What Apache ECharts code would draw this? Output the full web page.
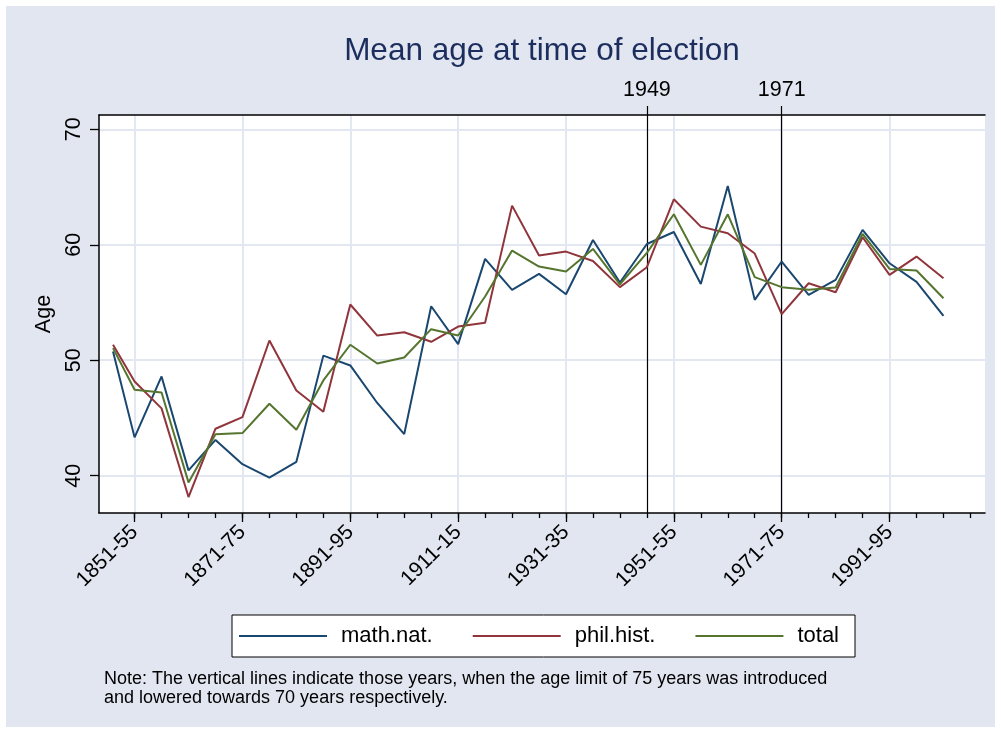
<!DOCTYPE html>
<html>
<head>
<meta charset="utf-8">
<script src="https://cdn.jsdelivr.net/npm/echarts@6/dist/echarts.min.js"></script>
<style>
html,body{margin:0;padding:0;background:#ffffff;}
#chart{width:1001px;height:733px;}
</style>
</head>
<body>
<div id="chart"></div>
<script>
// ---- data ----
const periodStart = [1847,1851,1856,1861,1866,1871,1876,1881,1886,1891,1896,1901,1906,1911,1916,1921,1926,1931,1936,1941,1946,1951,1956,1961,1966,1971,1976,1981,1986,1991,1996,2001];
const mathNat  = [50.76,43.32,48.6,40.46,43.1,41.0,39.83,41.2,50.4,49.55,46.3,43.6,54.68,51.4,58.78,56.1,57.48,55.72,60.42,56.73,60.07,61.11,56.61,65.09,55.23,58.55,55.66,56.96,61.29,58.4,56.79,53.84];
const philHist = [51.34,48.16,45.83,38.15,44.07,45.08,51.71,47.38,45.54,54.83,52.14,52.43,51.6,52.92,53.24,63.39,59.07,59.41,58.6,56.33,58.06,63.94,61.57,61.0,59.24,53.99,56.67,55.89,60.65,57.39,58.98,57.1];
const total    = [51.05,47.44,47.21,39.42,43.6,43.69,46.23,43.98,48.25,51.34,49.72,50.24,52.69,52.14,55.52,59.5,58.11,57.68,59.64,56.58,59.3,62.64,58.26,62.64,57.2,56.33,56.1,56.3,60.94,57.91,57.77,55.37];
const xTickYears  = [1851,1871,1891,1911,1931,1951,1971,1991];
const xTickLabels = ['1851-55','1871-75','1891-95','1911-15','1931-35','1951-55','1971-75','1991-95'];
const xMinorYears = [1851,1856,1861,1866,1871,1876,1881,1886,1891,1896,1901,1906,1911,1916,1921,1926,1931,1936,1941,1946,1951,1956,1961,1966,1971,1976,1981,1986,1991,1996,2001,2006];
const yTicks = [40,50,60,70];
const refLineYears  = [1946,1971];
const refLineLabels = ['1949','1971'];
const seriesNames = ['math.nat.','phil.hist.','total'];

const FONT = '"Liberation Sans", Arial, Helvetica, sans-serif';
const GRID_COL = '#E3E7F2';
const X_MIN = 1844.4, X_MAX = 2008.7, Y_MIN = 36.77, Y_MAX = 71.24;

function pairs(vals){ return periodStart.map((x,i)=>[x, vals[i]]); }

const chart = echarts.init(document.getElementById('chart'), null, {renderer:'canvas'});
chart.setOption({
  animation:false,
  backgroundColor:'#ffffff',
  textStyle:{fontFamily:FONT},
  graphic:[
    {type:'rect', z:-10, silent:true, shape:{x:6,y:6,width:989,height:721}, style:{fill:'#E2E6F0'}},
    {type:'text', left:104, top:670, silent:true, style:{
      text:'Note: The vertical lines indicate those years, when the age limit of 75 years was introduced\nand lowered towards 70 years respectively.',
      font:'18px ' + FONT, lineHeight:18.5, fill:'#000'}}
  ],
  title:{
    text:'Mean age at time of election',
    left:537, top:30, textAlign:'center',
    textStyle:{fontSize:31.5, fontWeight:'normal', color:'#1C2E5E', fontFamily:FONT}
  },
  legend:{
    data:seriesNames,
    left:232, top:615,
    orient:'horizontal',
    backgroundColor:'#ffffff',
    borderColor:'#000', borderWidth:1,
    padding:[10,16,10,7],
    itemGap:40, itemWidth:88, itemHeight:2,
    icon:'rect',
    textStyle:{fontSize:22, color:'#000', fontFamily:FONT, padding:[0,0,0,9]}
  },
  grid:{left:99, right:16, top:115, bottom:220, containLabel:false, backgroundColor:'#fff', show:true, borderWidth:0},
  xAxis:[
    {
      type:'value', min:X_MIN, max:X_MAX, position:'bottom',
      axisLine:{show:true, lineStyle:{color:'#000', width:1.5}},
      axisTick:{show:true, customValues:xTickYears, length:9, lineStyle:{color:'#000', width:1.3}},
      axisLabel:{show:true, customValues:xTickYears, rotate:45, margin:16, fontSize:21, color:'#000', fontFamily:FONT,
        formatter:(v)=>{const i=xTickYears.indexOf(Math.round(v)); return i>=0?xTickLabels[i]:'';}},
      splitLine:{show:true, lineStyle:{color:GRID_COL, width:2}}
    },
    {
      type:'value', min:X_MIN, max:X_MAX, position:'bottom',
      axisLine:{show:false},
      axisTick:{show:true, customValues:xMinorYears, length:5, lineStyle:{color:'#000', width:1.3}},
      axisLabel:{show:false},
      splitLine:{show:false}
    },
    {
      type:'value', min:X_MIN, max:X_MAX, position:'top',
      axisLine:{show:true, lineStyle:{color:'#000', width:1.5}},
      axisTick:{show:true, customValues:refLineYears, length:9, lineStyle:{color:'#000', width:1.2}},
      axisLabel:{show:true, customValues:refLineYears, margin:14, fontSize:21.5, color:'#000', fontFamily:FONT,
        formatter:(v)=>{const i=refLineYears.indexOf(Math.round(v)); return i>=0?refLineLabels[i]:'';}},
      splitLine:{show:true, lineStyle:{color:'#000', width:1.2}}
    }
  ],
  yAxis:[{
    type:'value', min:Y_MIN, max:Y_MAX,
    name:'Age', nameLocation:'middle', nameRotate:90, nameGap:42,
    nameTextStyle:{fontSize:21.5, color:'#000', fontFamily:FONT},
    axisLine:{show:true, lineStyle:{color:'#000', width:1.5}},
    axisTick:{show:true, customValues:yTicks, length:9, lineStyle:{color:'#000', width:1.3}},
    axisLabel:{show:true, customValues:yTicks, rotate:90, margin:14, fontSize:21.5, color:'#000', fontFamily:FONT},
    splitLine:{show:true, lineStyle:{color:GRID_COL, width:2}}
  }],
  series:[
    {name:seriesNames[0], type:'line', data:pairs(mathNat), symbol:'none', lineStyle:{color:'#1A476F', width:2}, itemStyle:{color:'#1A476F'}, z:3},
    {name:seriesNames[1], type:'line', data:pairs(philHist), symbol:'none', lineStyle:{color:'#90353B', width:2}, itemStyle:{color:'#90353B'}, z:4},
    {name:seriesNames[2], type:'line', data:pairs(total), symbol:'none', lineStyle:{color:'#55752F', width:2}, itemStyle:{color:'#55752F'}, z:5}
  ]
});
</script>
</body>
</html>
